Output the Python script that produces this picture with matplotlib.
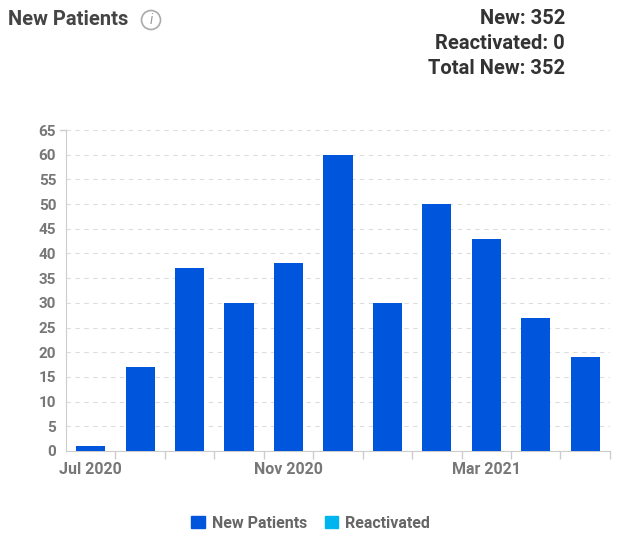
import matplotlib.pyplot as plt
from matplotlib.patches import Circle, Patch

months = ["Jul 2020", "Aug 2020", "Sep 2020", "Oct 2020", "Nov 2020", "Dec 2020",
          "Jan 2021", "Feb 2021", "Mar 2021", "Apr 2021", "May 2021"]
new_patients = [1, 17, 37, 30, 38, 60, 30, 50, 43, 27, 19]
reactivated = [0, 0, 0, 0, 0, 0, 0, 0, 0, 0, 0]
shown_labels = {0: "Jul 2020", 4: "Nov 2020", 8: "Mar 2021"}

blue = "#0055dd"
light = "#00b4f0"
gray = "#777777"

plt.rcParams['font.family'] = ['Roboto', 'DejaVu Sans']

fig = plt.figure(figsize=(6.34, 5.44), dpi=100)
ax = fig.add_axes([0.104, 0.171, 0.858, 0.59])

x = list(range(len(months)))
ax.bar(x, new_patients, width=0.59, color=blue, zorder=3)
ax.bar(x, reactivated, bottom=new_patients, width=0.59, color=light, zorder=3)

ax.set_xlim(-0.5, len(months) - 0.5)
ax.set_ylim(0, 65)
ax.set_yticks(range(0, 66, 5))
ax.tick_params(axis='y', length=0, labelsize=11, labelcolor=gray, pad=7)
for t in ax.get_yticklabels():
    t.set_fontweight('bold')

# ticks between categories, labels only on some months
ax.set_xticks([i + 0.5 for i in x])
ax.set_xticklabels([])
ax.tick_params(axis='x', length=6, color="#cccccc", width=1)
for i, lab in shown_labels.items():
    ax.text(i, -2.2, lab, ha='center', va='top', fontsize=11.5,
            fontweight='bold', color=gray)

ax.grid(axis='y', linestyle=(0, (4, 4)), color="#dddddd", linewidth=0.8, zorder=0)
for s in ['top', 'right']:
    ax.spines[s].set_visible(False)
ax.spines['left'].set_color("#cccccc")
ax.spines['bottom'].set_color("#cccccc")
ax.plot([-0.62, -0.5], [65, 65], color="#cccccc", lw=1, clip_on=False)

# header
fig.text(0.013, 0.965, "New Patients", fontsize=14.5, color="#444444",
         fontweight='bold', va='center', ha='left')
icon = Circle((151, 544 - 20), 9.5, transform=None, fill=False,
              edgecolor="#aaaaaa", lw=1.2)
fig.patches.append(icon)
fig.text(151 / 634, 1 - 20 / 544, "i", fontsize=10, color="#999999",
         style='italic', ha='center', va='center')

totals = ["New: %d" % sum(new_patients),
          "Reactivated: %d" % sum(reactivated),
          "Total New: %d" % (sum(new_patients) + sum(reactivated))]
for k, line in enumerate(totals):
    fig.text(565 / 634, 1 - (19 + 24.5 * k) / 544, line, fontsize=14.5,
             color="#333333", fontweight='bold', ha='right', va='center')

handles = [Patch(color=blue, label="New Patients"),
           Patch(color=light, label="Reactivated")]
leg = fig.legend(handles=handles, loc='center', bbox_to_anchor=(0.49, 1 - 523 / 544),
                 ncol=2, frameon=False, handlelength=0.85, handleheight=0.85,
                 handletextpad=0.45, columnspacing=1.1,
                 prop={'size': 11.5, 'weight': 'bold'})
for t in leg.get_texts():
    t.set_color("#666666")

fig.savefig("out.png", dpi=100)
